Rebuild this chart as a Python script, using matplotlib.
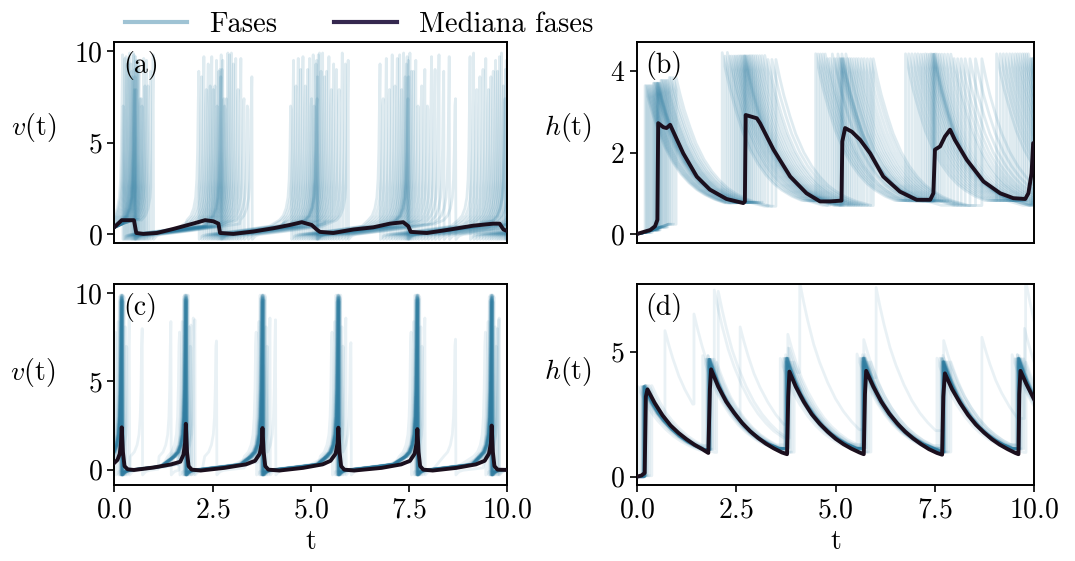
import matplotlib
matplotlib.use("Agg")
import matplotlib.pyplot as plt
from matplotlib.lines import Line2D

plt.rcParams['font.family'] = 'serif'
plt.rcParams['font.serif'] = ['cmr10']
plt.rcParams['mathtext.fontset'] = 'cm'
plt.rcParams['axes.formatter.use_mathtext'] = True

COLOR_FASES = '#2b7ba0'
COLOR_MEDIAN = '#1b0f1d'
COLOR_MEDIAN_LEG = '#35284f'

# ---- medians ----
med_a_t = [0.0, 0.19, 0.5, 0.56, 0.74, 1.08, 1.5, 2.0, 2.31, 2.52, 2.65, 2.69, 3.03, 3.54, 4.05, 4.47,
           4.77, 5.02, 5.15, 5.23, 5.57, 6.08, 6.59, 7.01, 7.35, 7.48, 7.54, 7.95, 8.54, 9.13, 9.64,
           9.8, 9.9, 10.0]
med_a_v = [0.36, 0.75, 0.75, 0.05, 0.0, 0.05, 0.27, 0.56, 0.75, 0.69, 0.56, 0.05, 0.0, 0.13, 0.31, 0.49,
           0.64, 0.49, 0.24, 0.11, 0.05, 0.24, 0.36, 0.56, 0.64, 0.42, 0.11, 0.05, 0.24, 0.45, 0.56,
           0.56, 0.24, 0.15]

med_b_t = [0.0, 0.34, 0.46, 0.52, 0.54, 0.67, 0.75, 0.84, 0.92, 1.17, 1.51, 1.84, 2.26, 2.68, 2.72,
           2.74, 3.02, 3.10, 3.44, 3.86, 4.27, 4.61, 4.86, 5.15, 5.17, 5.24, 5.41, 5.62, 5.87, 6.2,
           6.62, 7.04, 7.38, 7.46, 7.5, 7.63, 7.75, 7.88, 8.0, 8.3, 8.72, 9.14, 9.47, 9.77, 9.85,
           9.93, 9.97, 10.0]
med_b_h = [0.0, 0.1, 0.19, 0.35, 2.72, 2.62, 2.6, 2.68, 2.51, 1.98, 1.41, 1.09, 0.86, 0.76, 0.8,
           2.92, 2.84, 2.72, 2.07, 1.41, 1.0, 0.8, 0.8, 0.82, 2.27, 2.6, 2.51, 2.31, 1.98, 1.41,
           1.04, 0.84, 0.84, 1.0, 2.07, 2.15, 2.39, 2.56, 2.31, 1.82, 1.29, 1.0, 0.88, 0.86, 1.0,
           1.49, 2.23, 2.2]

med_c_t = [0.0, 0.08, 0.14, 0.17, 0.19, 0.22, 0.26, 0.34, 0.5, 1.0, 1.45, 1.68, 1.76, 1.80, 1.82,
           1.85, 1.89, 1.97, 2.2, 2.8, 3.35, 3.58, 3.70, 3.75, 3.77, 3.80, 3.84, 3.92, 4.2, 4.8,
           5.3, 5.5, 5.63, 5.68, 5.70, 5.73, 5.77, 5.85, 6.1, 6.8, 7.3, 7.52, 7.64, 7.69, 7.71,
           7.74, 7.78, 7.86, 8.1, 8.7, 9.2, 9.42, 9.53, 9.58, 9.60, 9.63, 9.67, 9.75, 10.0]
med_c_v = [0.38, 0.55, 0.9, 1.5, 2.4, 1.0, 0.2, 0.02, -0.02, 0.12, 0.3, 0.45, 0.85, 1.5, 2.6,
           1.0, 0.2, 0.0, -0.05, 0.1, 0.3, 0.5, 0.9, 1.5, 2.36, 1.0, 0.2, 0.0, -0.05, 0.1,
           0.3, 0.5, 0.9, 1.5, 2.38, 1.0, 0.2, 0.0, -0.05, 0.1, 0.3, 0.5, 0.9, 1.5, 2.3,
           1.0, 0.2, 0.0, -0.05, 0.1, 0.3, 0.5, 0.9, 1.5, 2.5, 1.0, 0.2, 0.0, -0.02]

med_d_t = [0.0, 0.12, 0.2, 0.23, 0.27, 0.45, 0.65, 0.85, 1.05, 1.25, 1.45, 1.65, 1.80, 1.84, 1.87,
           2.05, 2.25, 2.45, 2.65, 2.85, 3.05, 3.25, 3.45, 3.65, 3.78, 3.81, 3.84,
           4.0, 4.2, 4.4, 4.6, 4.8, 5.0, 5.2, 5.4, 5.6, 5.71, 5.74, 5.77,
           5.95, 6.15, 6.35, 6.55, 6.75, 6.95, 7.15, 7.35, 7.55, 7.68, 7.71, 7.75,
           7.93, 8.13, 8.33, 8.53, 8.73, 8.93, 9.13, 9.33, 9.52, 9.6, 9.62, 9.65, 9.8, 10.0]
med_d_h = [0.0, 0.05, 0.15, 3.2, 3.49, 2.95, 2.45, 2.05, 1.75, 1.5, 1.28, 1.1, 0.95, 3.5, 4.29,
           3.6, 3.0, 2.55, 2.15, 1.82, 1.55, 1.32, 1.13, 0.97, 0.9, 3.2, 4.2,
           3.6, 3.0, 2.5, 2.12, 1.8, 1.52, 1.3, 1.12, 0.97, 0.9, 3.3, 4.23,
           3.6, 3.0, 2.52, 2.13, 1.8, 1.53, 1.3, 1.1, 0.95, 0.88, 3.2, 4.13,
           3.5, 2.95, 2.47, 2.08, 1.77, 1.5, 1.28, 1.1, 0.95, 0.9, 3.3, 4.23, 3.7, 3.07]

# ---- shape of a single phase trace ----
v_init_t = [0.0, 0.2, 0.4, 0.6, 0.8, 1.0]
v_init = [0.35, 0.55, 0.7, 0.8, 0.9, 1.0]
v_pre_t = [-0.3, -0.2, -0.13, -0.08, -0.05, -0.03, -0.015]
v_pre = [0.75, 1.0, 1.4, 2.0, 3.0, 4.6, 7.0]
v_post_t = [0.01, 0.05, 0.1, 0.2, 0.4, 0.7, 1.0, 1.4, 1.8, 2.2, 2.6, 3.0, 3.5, 4.0]
v_post = [-0.3, -0.2, -0.1, -0.03, 0.02, 0.1, 0.18, 0.3, 0.42, 0.55, 0.68, 0.8, 0.9, 0.95]

h_init_t = [0.0, 0.2, 0.4, 0.6, 0.8, 1.0]
h_init = [0.0, 0.04, 0.1, 0.17, 0.24, 0.3]
h_decay_t = [0.0, 0.1, 0.2, 0.35, 0.5, 0.7, 0.9, 1.1, 1.3, 1.5, 1.75, 2.0, 2.4, 2.8, 3.3, 4.0]
h_decay_top = [1.0, 0.875, 0.765, 0.63, 0.51, 0.39, 0.3, 0.23, 0.175, 0.135, 0.097, 0.07, 0.04, 0.024, 0.012, 0.005]
h_decay_bottom = [1.0, 0.89, 0.79, 0.66, 0.56, 0.45, 0.36, 0.29, 0.235, 0.19, 0.15, 0.115, 0.075, 0.05, 0.03, 0.015]
h_jump = 3.6
h_floor_top = 0.55
h_floor_bottom = 0.5

# ---- spike times, top simulation (a, b): one list per burst ----
spk_top_1 = [0.21, 0.44, 0.27, 0.61, 0.33, 0.52, 0.39, 0.78, 0.46, 0.24, 0.55, 0.69, 0.30, 0.50, 0.92,
             0.36, 0.57, 0.42, 0.63, 0.48, 0.86, 0.53, 0.72, 0.51, 0.66, 0.54, 0.99, 0.59, 0.75, 0.82]
spk_top_2 = [2.22, 2.63, 2.34, 2.85, 2.48, 2.72, 2.15, 3.09, 2.60, 2.39, 2.74, 2.98, 2.44, 2.71, 3.40,
             2.52, 2.79, 2.28, 2.93, 2.66, 3.22, 2.76, 3.03, 2.69, 2.89, 2.56, 3.50, 2.82, 3.15, 3.30]
spk_top_3 = [4.56, 5.13, 4.74, 5.30, 4.62, 5.17, 4.50, 5.52, 5.02, 4.80, 5.19, 5.40, 4.68, 5.15, 5.88,
             4.92, 5.22, 4.86, 5.35, 5.10, 5.72, 5.16, 5.46, 5.06, 5.26, 4.97, 5.95, 5.58, 5.65, 5.80]
spk_top_4 = [6.84, 7.45, 7.07, 7.61, 6.92, 7.48, 6.76, 7.90, 7.36, 7.14, 7.49, 7.74, 7.00, 7.47, 8.52,
             7.26, 7.56, 7.20, 7.67, 7.43, 8.16, 7.52, 7.82, 7.40, 7.98, 7.31, 8.68, 8.07, 8.26, 8.38]
spk_top_5 = [9.14, 9.90, 9.30, 10.2, 9.22, 9.94, 9.05, 10.5, 9.75, 9.45, 9.97, 10.3, 9.38, 9.85, 10.9,
             9.58, 10.05, 9.52, 10.4, 9.80, 10.7, 9.64, 10.6, 9.70, 10.8, 9.95, 11.0, 10.1, 10.25, 10.45]
peaks_top = [9.8, 8.6, 9.5, 7.4, 9.9, 8.9, 6.8, 9.3, 9.7, 8.1, 9.6, 7.9, 9.0]

# ---- spike times, bottom simulation (c, d) ----
spk_bottom_center = [0.19, 1.82, 3.77, 5.70, 7.71, 9.60]
spk_bottom_offset = [-0.16, -0.09, -0.06, -0.045, -0.035, -0.03, -0.025, -0.02, -0.015, -0.01,
                     -0.008, -0.005, -0.003, 0.0, 0.0, 0.002, 0.004, 0.006, 0.01, 0.013,
                     0.016, 0.02, 0.025, 0.03, 0.035, 0.045, 0.06, 0.09, 0.13, 0.19]
peaks_bottom = [9.9, 9.7, 9.8, 9.6, 9.9, 9.5, 9.8, 9.7, 9.9, 9.6]
peaks_bottom_wide = [7.8, 8.4, 7.2, 8.1, 6.9, 8.6]
# a few stray phases with extra spikes
stray_spikes = [[0.20, 0.71, 1.44, 1.95, 3.81, 5.72, 7.72, 9.61],
                [0.19, 1.84, 2.05, 3.84, 4.10, 5.71, 7.70, 9.60],
                [0.19, 1.84, 2.60, 3.80, 5.74, 6.02, 7.72, 9.62],
                [0.20, 1.82, 3.77, 5.70, 7.71, 8.68, 9.75],
                [0.18, 1.83, 3.78, 5.69, 7.72, 9.62, 9.78]]
stray_peaks = [[9.6, 8.0, 8.4, 8.2, 9.7, 9.8, 9.7, 9.9],
               [9.8, 9.7, 8.5, 9.8, 8.5, 9.6, 9.8, 9.7],
               [9.7, 9.8, 7.3, 9.6, 9.8, 7.2, 9.7, 9.8],
               [9.9, 9.6, 9.8, 9.7, 9.9, 7.4, 8.0],
               [9.8, 9.7, 9.9, 9.8, 9.6, 9.8, 8.5]]


def v_trace(spikes, peaks):
    ts, vs = [], []
    first = spikes[0] + v_pre_t[0]
    for t, v in zip(v_init_t, v_init):
        if t < first:
            ts.append(t); vs.append(v)
    for j, (s, p) in enumerate(zip(spikes, peaks)):
        for T, v in zip(v_pre_t, v_pre):
            if not ts or s + T > ts[-1]:
                ts.append(s + T); vs.append(v)
        ts.append(s); vs.append(p)
        nxt = spikes[j + 1] + v_pre_t[0] if j + 1 < len(spikes) else 12.0
        for T, v in zip(v_post_t, v_post):
            if s + T < nxt:
                ts.append(s + T); vs.append(v)
    return ts, vs


def h_trace(spikes, floor, decay):
    ts, hs = [], []
    for t, h in zip(h_init_t, h_init):
        if t < spikes[0]:
            ts.append(t); hs.append(h)
    for j, s in enumerate(spikes):
        last = hs[-1]
        ts.append(s); hs.append(last)
        peak = last + h_jump
        nxt = spikes[j + 1] if j + 1 < len(spikes) else 12.0
        for T, f in zip(h_decay_t, decay):
            if s + T < nxt:
                ts.append(s + T); hs.append(floor + (peak - floor) * f)
        ts.append(min(nxt, 12.0)); hs.append(hs[-1])
    return ts, hs


top_spikes = [list(r) for r in zip(spk_top_1, spk_top_2, spk_top_3, spk_top_4, spk_top_5)]
bottom_spikes = []
bottom_peaks = []
n_off = len(spk_bottom_offset)
for i in range(n_off):
    offs = [spk_bottom_offset[(i + 7 * k) % n_off] for k in range(len(spk_bottom_center))]
    bottom_spikes.append([c + o for c, o in zip(spk_bottom_center, offs)])
    bottom_peaks.append([peaks_bottom_wide[(i + k) % len(peaks_bottom_wide)] if abs(o) > 0.08
                         else peaks_bottom[(i + k) % len(peaks_bottom)] for k, o in enumerate(offs)])
bottom_spikes += stray_spikes
bottom_peaks += stray_peaks

fig = plt.figure(figsize=(10.75, 5.61), dpi=100)
ax_a = fig.add_axes([0.1063, 0.5668, 0.3657, 0.3583])
ax_b = fig.add_axes([0.5923, 0.5668, 0.3699, 0.3583])
ax_c = fig.add_axes([0.1063, 0.1355, 0.3657, 0.3583])
ax_d = fig.add_axes([0.5923, 0.1355, 0.3699, 0.3583])

top_kw = dict(color=COLOR_FASES, alpha=0.15, lw=2.0, solid_capstyle='butt')
bot_kw = dict(color=COLOR_FASES, alpha=0.1, lw=2.0, solid_capstyle='butt')
med_kw = dict(color=COLOR_MEDIAN, lw=2.8, zorder=5)

for i, sp in enumerate(top_spikes):
    pk = [peaks_top[(i * 5 + k) % len(peaks_top)] for k in range(len(sp))]
    t, v = v_trace(sp, pk)
    ax_a.plot(t, v, **top_kw)
    t, h = h_trace(sp, h_floor_top, h_decay_top)
    ax_b.plot(t, h, **top_kw)
for sp, pk in zip(bottom_spikes, bottom_peaks):
    t, v = v_trace(sp, pk)
    ax_c.plot(t, v, **bot_kw)
    t, h = h_trace(sp, h_floor_bottom, h_decay_bottom)
    ax_d.plot(t, h, **bot_kw)

ax_a.plot(med_a_t, med_a_v, **med_kw)
ax_b.plot(med_b_t, med_b_h, **med_kw)
ax_c.plot(med_c_t, med_c_v, **med_kw)
ax_d.plot(med_d_t, med_d_h, **med_kw)

ax_a.set_ylim(-0.5, 10.5)
ax_b.set_ylim(-0.22, 4.71)
ax_c.set_ylim(-0.87, 10.53)
ax_d.set_ylim(-0.33, 7.7)
ax_a.set_yticks([0, 5, 10])
ax_b.set_yticks([0, 2, 4])
ax_c.set_yticks([0, 5, 10])
ax_d.set_yticks([0, 5])

for ax, lab, name, lx, ly in [(ax_a, '(a)', r'$v(\mathrm{t})$', -0.206, 0.575),
                              (ax_b, '(b)', r'$h(\mathrm{t})$', -0.174, 0.575),
                              (ax_c, '(c)', r'$v(\mathrm{t})$', -0.208, 0.56),
                              (ax_d, '(d)', r'$h(\mathrm{t})$', -0.174, 0.567)]:
    ax.set_xlim(0, 10)
    ax.text(0.022, 0.955, lab, transform=ax.transAxes, va='top', ha='left', fontsize=20)
    ax.set_ylabel(name, rotation=0, fontsize=20, va='center', ha='center')
    ax.yaxis.set_label_coords(lx, ly)
    ax.tick_params(labelsize=20, width=1.2, length=5)
    for s in ax.spines.values():
        s.set_linewidth(1.4)

for ax in (ax_a, ax_b):
    ax.tick_params(axis='x', bottom=False, labelbottom=False)
for ax in (ax_c, ax_d):
    ax.set_xticks([0, 2.5, 5, 7.5, 10])
    ax.set_xlabel('t', fontsize=20)

handles = [Line2D([], [], color=COLOR_FASES, alpha=0.45, lw=3),
           Line2D([], [], color=COLOR_MEDIAN_LEG, lw=3)]
fig.legend(handles, ['Fases', 'Mediana fases'], loc='upper left', bbox_to_anchor=(0.092, 1.025),
           ncol=2, frameon=False, fontsize=20.5, handlelength=2.2, handletextpad=0.77, columnspacing=2.0)

fig.savefig('out.png', dpi=100)
